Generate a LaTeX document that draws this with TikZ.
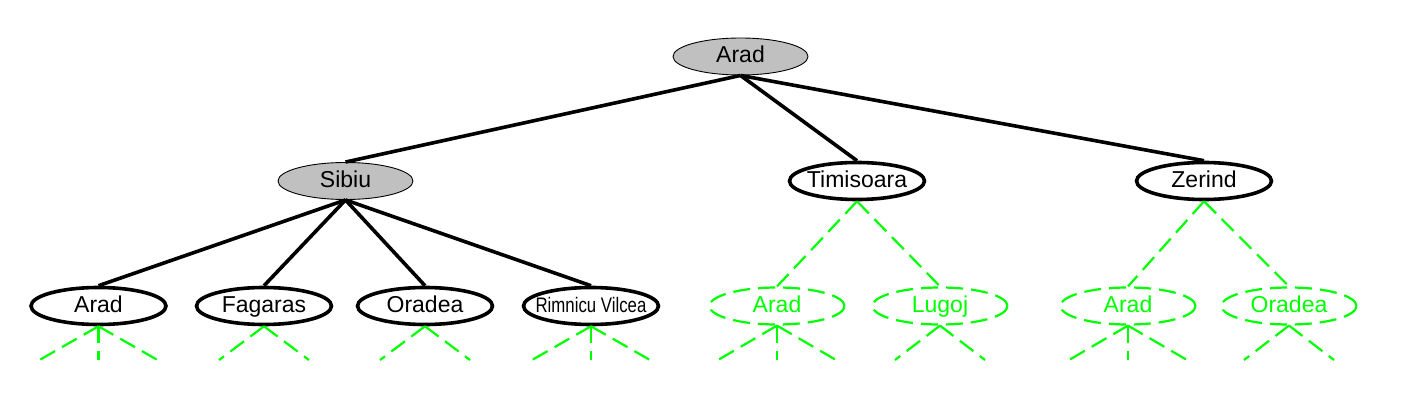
\documentclass[tikz,border=0pt]{standalone}
\usepackage{fontspec}
\setmainfont{Liberation Sans}
\usepackage{graphicx}
\usetikzlibrary{shapes.geometric}
\definecolor{nodegray}{RGB}{192,192,192}
\definecolor{searchgreen}{RGB}{0,255,0}
\begin{document}
\begin{tikzpicture}[x=1pt,y=-1pt,
  every node/.style={font=\fontsize{23}{27}\selectfont},
  basenode/.style={ellipse, minimum width=135pt, minimum height=37pt, inner sep=0pt, text height=17pt, text depth=5pt},
  expanded/.style={basenode, draw=black, line width=0.9pt, fill=nodegray},
  frontier/.style={basenode, draw=black, line width=3.6pt, fill=white},
  unseen/.style={basenode, draw=searchgreen, line width=2.2pt, dash pattern=on 17pt off 8pt, text=searchgreen},
  treeedge/.style={draw=black, line width=3.6pt},
  greenedge/.style={draw=searchgreen, line width=2.2pt, dash pattern=on 17pt off 8pt},
]
\useasboundingbox (0,0) rectangle (1414,417);

% level 0
\node[expanded] (root) at (740.5,56.5) {\makebox[0pt]{Arad}};
% level 1
\node[expanded] (sibiu) at (345.5,181) {\makebox[0pt]{Sibiu}};
\node[frontier] (timisoara) at (857,181) {\makebox[0pt]{Timisoara}};
\node[frontier] (zerind) at (1204,181) {\makebox[0pt]{Zerind}};
% level 2
\node[frontier] (aradA) at (98.5,306) {\makebox[0pt]{Arad}};
\node[frontier] (fagaras) at (264,306) {\makebox[0pt]{Fagaras}};
\node[frontier] (oradeaA) at (425,306) {\makebox[0pt]{Oradea}};
\node[frontier] (rimnicu) at (591,306) {\makebox[0pt]{\scalebox{0.8}[1]{\fontsize{21}{25}\selectfont Rimnicu Vilcea}}};
\node[unseen] (aradB) at (777,306) {\makebox[0pt]{Arad}};
\node[unseen] (lugoj) at (940,306) {\makebox[0pt]{Lugoj}};
\node[unseen] (aradC) at (1128,306) {\makebox[0pt]{Arad}};
\node[unseen] (oradeaB) at (1289,306) {\makebox[0pt]{Oradea}};

% edges
\draw[treeedge] (root.south) -- (sibiu.north);
\draw[treeedge] (root.south) -- (timisoara.north);
\draw[treeedge] (root.south) -- (zerind.north);
\draw[treeedge] (sibiu.south) -- (aradA.north);
\draw[treeedge] (sibiu.south) -- (fagaras.north);
\draw[treeedge] (sibiu.south) -- (oradeaA.north);
\draw[treeedge] (sibiu.south) -- (rimnicu.north);
\draw[greenedge] (timisoara.south) -- (aradB.north);
\draw[greenedge] (timisoara.south) -- (lugoj.north);
\draw[greenedge] (zerind.south) -- (aradC.north);
\draw[greenedge] (zerind.south) -- (oradeaB.north);

% stub ends
\coordinate (aradAl) at (39.5,360);  \coordinate (aradAm) at (98.5,360);  \coordinate (aradAr) at (157.5,360);
\coordinate (fagl) at (219,360);     \coordinate (fagr) at (309,360);
\coordinate (oral) at (380,360);     \coordinate (orar) at (470,360);
\coordinate (riml) at (532,360);     \coordinate (rimm) at (591,360);     \coordinate (rimr) at (650,360);
\coordinate (aradBl) at (718,360);   \coordinate (aradBm) at (777,360);   \coordinate (aradBr) at (836,360);
\coordinate (lugl) at (895,360);     \coordinate (lugr) at (985,360);
\coordinate (aradCl) at (1069,360);  \coordinate (aradCm) at (1128,360);  \coordinate (aradCr) at (1187,360);
\coordinate (orbl) at (1244,360);    \coordinate (orbr) at (1334,360);

\foreach \n/\a in {aradA/aradAl, aradA/aradAm, aradA/aradAr,
                   fagaras/fagl, fagaras/fagr,
                   oradeaA/oral, oradeaA/orar,
                   rimnicu/riml, rimnicu/rimm, rimnicu/rimr,
                   aradB/aradBl, aradB/aradBm, aradB/aradBr,
                   lugoj/lugl, lugoj/lugr,
                   aradC/aradCl, aradC/aradCm, aradC/aradCr,
                   oradeaB/orbl, oradeaB/orbr}
  \draw[greenedge] (\n.south) -- (\a);
\end{tikzpicture}
\end{document}
